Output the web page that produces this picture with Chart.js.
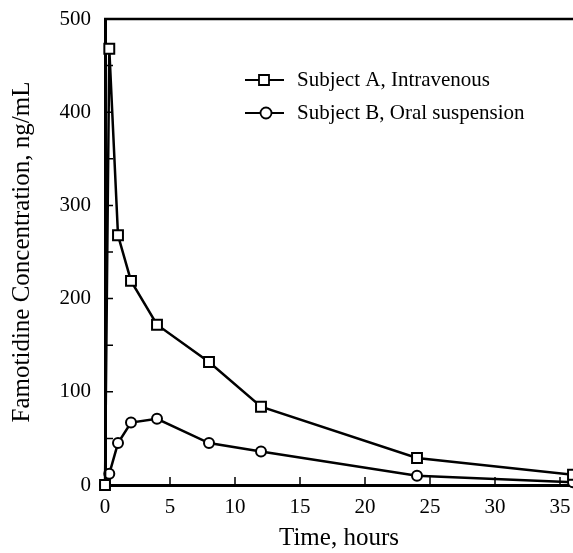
<!DOCTYPE html>
<html>
<head>
<meta charset="utf-8">
<script src="https://cdn.jsdelivr.net/npm/chart.js@4.4.1/dist/chart.umd.min.js"></script>
<style>
  body { margin: 0; background: #fff; overflow: hidden; }
  canvas { display: block; background: #fff; }
</style>
</head>
<body>
<canvas id="pkChart" width="573" height="553"></canvas>
<script>
// data
const timeA = [0, 0.33, 1, 2, 4, 8, 12, 24, 36];
const concA = [0, 468, 268, 219, 172, 132, 84, 29, 11];
const timeB = [0, 0.33, 1, 2, 4, 8, 12, 24, 36];
const concB = [0, 12, 45, 67, 71, 45, 36, 10, 3];

const xTicks = [0, 5, 10, 15, 20, 25, 30, 35];
const yTicks = [0, 50, 100, 150, 200, 250, 300, 350, 400, 450, 500];

const labelA = 'Subject A, Intravenous';
const labelB = 'Subject B, Oral suspension';

const serif = "'Liberation Serif', 'Times New Roman', serif";

function toPoints(xs, ys) {
  return xs.map((x, i) => ({ x: x, y: ys[i] }));
}

// top frame line + inward tick marks + legend
const framePlugin = {
  id: 'frame',
  afterDraw(chart) {
    const ctx = chart.ctx;
    const area = chart.chartArea;
    const xs = chart.scales.x;
    const ys = chart.scales.y;
    ctx.save();
    ctx.strokeStyle = '#000';

    ctx.lineWidth = 2.5;
    ctx.beginPath();
    ctx.moveTo(area.left - 1, area.top);
    ctx.lineTo(area.right, area.top);
    ctx.stroke();

    ctx.lineWidth = 1.5;
    ctx.beginPath();
    xTicks.forEach(v => {
      if (v === 0) return;
      const px = xs.getPixelForValue(v);
      ctx.moveTo(px, area.bottom);
      ctx.lineTo(px, area.bottom - 8);
    });
    yTicks.forEach(v => {
      if (v === 0 || v === 500) return;
      const py = ys.getPixelForValue(v);
      ctx.moveTo(area.left, py);
      ctx.lineTo(area.left + 8, py);
    });
    ctx.stroke();

    // legend
    const rows = [
      { text: labelA, style: 'rect', y: 80 },
      { text: labelB, style: 'circle', y: 113 }
    ];
    ctx.font = '21px ' + serif;
    ctx.textBaseline = 'middle';
    rows.forEach(r => {
      ctx.lineWidth = 1.8;
      ctx.beginPath();
      ctx.moveTo(245, r.y);
      ctx.lineTo(284, r.y);
      ctx.stroke();
      ctx.fillStyle = '#fff';
      ctx.beginPath();
      if (r.style === 'rect') {
        ctx.rect(259, r.y - 5, 10, 10);
      } else {
        ctx.arc(266, r.y, 5.5, 0, Math.PI * 2);
      }
      ctx.fill();
      ctx.stroke();
      ctx.fillStyle = '#000';
      ctx.fillText(r.text, 297, r.y);
    });
    ctx.restore();
  }
};

new Chart(document.getElementById('pkChart'), {
  type: 'scatter',
  data: {
    datasets: [
      {
        label: labelA,
        data: toPoints(timeA, concA),
        showLine: true,
        borderColor: '#000',
        borderWidth: 2.5,
        pointStyle: 'rect',
        pointRadius: 7,
        pointBorderWidth: 2,
        pointBackgroundColor: '#fff',
        pointBorderColor: '#000',
        clip: false
      },
      {
        label: labelB,
        data: toPoints(timeB, concB),
        showLine: true,
        borderColor: '#000',
        borderWidth: 2.5,
        pointStyle: 'circle',
        pointRadius: 5,
        pointBorderWidth: 2,
        pointBackgroundColor: '#fff',
        pointBorderColor: '#000',
        clip: false
      }
    ]
  },
  options: {
    responsive: false,
    animation: false,
    layout: { autoPadding: false, padding: { top: 19, right: 0, left: 0, bottom: 0 } },
    plugins: {
      legend: { display: false },
      tooltip: { enabled: false }
    },
    scales: {
      x: {
        type: 'linear',
        min: 0,
        max: 36,
        afterBuildTicks: s => { s.ticks = xTicks.map(v => ({ value: v })); },
        afterFit: s => { s.height = 68; s.paddingRight = 0; s.paddingLeft = 0; },
        grid: { display: false, drawTicks: false },
        border: { display: true, color: '#000', width: 3 },
        ticks: {
          color: '#000',
          padding: 10,
          maxRotation: 0,
          font: { family: serif, size: 21 }
        },
        title: {
          display: true,
          text: 'Time, hours',
          color: '#000',
          padding: { top: 0, bottom: 0 },
          font: { family: serif, size: 25 }
        }
      },
      y: {
        type: 'linear',
        min: 0,
        max: 500,
        afterBuildTicks: s => { s.ticks = yTicks.map(v => ({ value: v })); },
        afterFit: s => { s.width = 105; s.paddingTop = 0; s.paddingBottom = 0; },
        grid: { display: false, drawTicks: false },
        border: { display: true, color: '#000', width: 3 },
        ticks: {
          color: '#000',
          padding: 14,
          font: { family: serif, size: 21 },
          callback: v => (v % 100 === 0 ? v : '')
        },
        title: {
          display: true,
          text: 'Famotidine Concentration, ng/mL',
          color: '#000',
          padding: { top: 7, bottom: 0 },
          font: { family: serif, size: 25 }
        }
      }
    }
  },
  plugins: [framePlugin]
});
</script>
</body>
</html>
